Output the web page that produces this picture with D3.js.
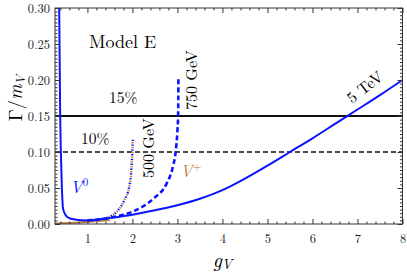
<!DOCTYPE html>
<html>
<head>
<meta charset="utf-8">
<script src="https://cdn.jsdelivr.net/npm/d3@7"></script>
</head>
<body style="margin:0; background:#fff">
<div id="chart"></div>
<script>
// --- data ---
const xTicks = [1, 2, 3, 4, 5, 6, 7, 8];
const yTicks = [0.00, 0.05, 0.10, 0.15, 0.20, 0.25, 0.30];

// V0, 5 TeV (solid blue)
const g_5tev = [0.362, 0.373, 0.395, 0.41, 0.433, 0.46, 0.52, 0.6, 0.75, 1.0, 1.5, 2.0, 2.5, 3.0, 3.5, 4.0, 4.5, 5.0, 5.5, 6.0, 6.5, 7.0, 7.5, 8.0];
const w_5tev = [0.33, 0.30, 0.15, 0.10, 0.05, 0.021, 0.012, 0.008, 0.006, 0.005, 0.0085, 0.013, 0.019, 0.026, 0.035, 0.047, 0.063, 0.081, 0.100, 0.119, 0.139, 0.159, 0.179, 0.200];

// V0, 750 GeV (dashed blue)
const g_750 = [1.0, 1.5, 1.8, 2.0, 2.25, 2.5, 2.75, 2.9, 2.96, 3.0, 3.015, 3.022];
const w_750 = [0.005, 0.0085, 0.013, 0.017, 0.025, 0.037, 0.055, 0.08, 0.10, 0.13, 0.15, 0.205];

// V0, 500 GeV (dotted blue)
const g_500 = [1.0, 1.3, 1.5, 1.68, 1.82, 1.93, 1.97, 1.99, 2.0, 2.007];
const w_500 = [0.005, 0.007, 0.010, 0.019, 0.033, 0.052, 0.07, 0.09, 0.10, 0.117];

// V+ (orange), 500 GeV dotted and the flat part near zero
const g_plus500 = [1.0, 1.3, 1.5, 1.68, 1.82, 1.93, 1.97, 1.99, 2.0, 2.005];
const w_plus500 = [0.005, 0.007, 0.010, 0.019, 0.033, 0.052, 0.07, 0.09, 0.10, 0.114];
const g_plusLow = [0.28, 0.5, 0.8, 1.0, 1.3, 1.5];
const w_plusLow = [0.0008, 0.0012, 0.002, 0.003, 0.0045, 0.006];

const lines15 = 0.15;
const lines10 = 0.10;

AREA_WIDTH = 407;
AREA_HEIGHT = 273;
const BLUE = "#0a14ff";
const ORANGE = "#c47f42";
const LM = "'Latin Modern Roman', 'Liberation Serif', serif";

const margin = { left: 55, right: 4.5, top: 8, bottom: 49 };

const svg = d3.select("#chart")
	.append("svg")
		.attr("width", AREA_WIDTH)
		.attr("height", AREA_HEIGHT);

const x = d3.scaleLinear().domain([0.28, 8]).range([margin.left, AREA_WIDTH - margin.right]);
const y = d3.scaleLinear().domain([0, 0.3]).range([AREA_HEIGHT - margin.bottom, margin.top]);

svg.append("clipPath").attr("id", "clip")
	.append("rect")
		.attr("x", x(0.28)).attr("y", y(0.3))
		.attr("width", x(8) - x(0.28)).attr("height", y(0) - y(0.3));

const plot = svg.append("g").attr("clip-path", "url(#clip)");

const line = d3.line()
	.x(d => x(d[0]))
	.y(d => y(d[1]))
	.curve(d3.curveMonotoneX);

function zip(a, b) { return a.map((v, i) => [v, b[i]]); }

// reference lines
plot.append("line")
	.attr("x1", x(0.28)).attr("x2", x(8))
	.attr("y1", y(lines15)).attr("y2", y(lines15))
	.attr("stroke", "#111").attr("stroke-width", 2);
plot.append("line")
	.attr("x1", x(0.28)).attr("x2", x(8))
	.attr("y1", y(lines10)).attr("y2", y(lines10))
	.attr("stroke", "#111").attr("stroke-width", 1.7)
	.attr("stroke-dasharray", "5,3");

// V+ curves
plot.append("path")
	.attr("d", line(zip(g_plusLow, w_plusLow)))
	.attr("fill", "none").attr("stroke", ORANGE).attr("stroke-width", 2);
plot.append("path")
	.attr("d", line(zip(g_plus500, w_plus500)))
	.attr("fill", "none").attr("stroke", ORANGE).attr("stroke-width", 2.4)
	.attr("stroke-dasharray", "1.4,3.4").attr("stroke-dashoffset", 2.4);

// V0 curves
plot.append("path")
	.attr("d", line(zip(g_500, w_500)))
	.attr("fill", "none").attr("stroke", BLUE).attr("stroke-width", 2.4)
	.attr("stroke-dasharray", "1.4,3.4");
plot.append("path")
	.attr("d", line(zip(g_750, w_750)))
	.attr("fill", "none").attr("stroke", BLUE).attr("stroke-width", 2.6)
	.attr("stroke-dasharray", "5,3");
plot.append("path")
	.attr("d", line(zip(g_5tev, w_5tev)))
	.attr("fill", "none").attr("stroke", BLUE).attr("stroke-width", 2);

// frame
svg.append("rect")
	.attr("x", x(0.28)).attr("y", y(0.3))
	.attr("width", x(8) - x(0.28)).attr("height", y(0) - y(0.3))
	.attr("fill", "none").attr("stroke", "#333").attr("stroke-width", 1);

// ticks, inward on all four sides
const xMinor = d3.range(0.4, 8.001, 0.2).filter(v => Math.abs(v - Math.round(v)) > 0.01);
const yMinor = d3.range(0.005, 0.3, 0.005).filter(v => Math.abs(v / 0.05 - Math.round(v / 0.05)) > 0.01);

svg.append("g").attr("transform", `translate(0,${y(0)})`)
	.call(d3.axisBottom(x).tickValues(xTicks).tickSizeInner(-5).tickSizeOuter(0).tickPadding(10).tickFormat(d3.format("d")));
svg.append("g").attr("transform", `translate(0,${y(0)})`)
	.call(d3.axisBottom(x).tickValues(xMinor).tickSizeInner(-2.5).tickSizeOuter(0).tickFormat(""));
svg.append("g").attr("transform", `translate(0,${y(0.3)})`)
	.call(d3.axisTop(x).tickValues(xTicks).tickSizeInner(-5).tickSizeOuter(0).tickFormat(""));
svg.append("g").attr("transform", `translate(0,${y(0.3)})`)
	.call(d3.axisTop(x).tickValues(xMinor).tickSizeInner(-2.5).tickSizeOuter(0).tickFormat(""));

svg.append("g").attr("transform", `translate(${x(0.28)},0)`)
	.call(d3.axisLeft(y).tickValues(yTicks).tickSizeInner(-5).tickSizeOuter(0).tickPadding(5).tickFormat(d3.format(".2f")));
svg.append("g").attr("transform", `translate(${x(0.28)},0)`)
	.call(d3.axisLeft(y).tickValues(yMinor).tickSizeInner(-2.5).tickSizeOuter(0).tickFormat(""));
svg.append("g").attr("transform", `translate(${x(8)},0)`)
	.call(d3.axisRight(y).tickValues(yTicks).tickSizeInner(-5).tickSizeOuter(0).tickFormat(""));
svg.append("g").attr("transform", `translate(${x(8)},0)`)
	.call(d3.axisRight(y).tickValues(yMinor).tickSizeInner(-2.5).tickSizeOuter(0).tickFormat(""));

svg.selectAll(".domain").remove();
svg.selectAll(".tick line").attr("stroke", "#333");
svg.selectAll(".tick text")
	.style("font-family", LM)
	.style("font-size", "12.5px")
	.attr("fill", "#222");

// helper for text in the LaTeX-like font
function label(sel, size) {
	return sel.append("text").style("font-family", LM).style("font-size", size + "px");
}

// axis titles
const gv = label(svg, 20)
	.attr("x", x(4.0)).attr("y", 267)
	.attr("text-anchor", "middle")
	.style("font-style", "italic")
	.text("g");
gv.append("tspan").style("font-size", "14px").attr("dy", 2).text("V");

const gm = label(svg, 19)
	.attr("transform", `translate(22,${y(0.175)}) rotate(-90)`)
	.attr("text-anchor", "middle")
	.text("Γ/");
gm.append("tspan").style("font-style", "italic").text("m");
gm.append("tspan").style("font-style", "italic").style("font-size", "13px").attr("dy", 3).text("V");

// annotations
label(svg, 18).attr("x", 89).attr("y", 48).text("Model E");
label(svg, 15.5).attr("x", 109).attr("y", 103).text("15%");
label(svg, 15.5).attr("x", 81).attr("y", 144).text("10%");

const v0 = label(svg, 17)
	.attr("x", 70).attr("y", 193)
	.style("font-style", "italic").attr("fill", BLUE)
	.text("V");
v0.append("tspan").style("font-size", "11px").style("font-style", "normal").attr("dy", -7).text("0");

const vp = label(svg, 17)
	.attr("x", 180).attr("y", 177)
	.style("font-style", "italic").attr("fill", ORANGE)
	.text("V");
vp.append("tspan").style("font-size", "11px").style("font-style", "normal").attr("dy", -7).text("+");

label(svg, 16).attr("transform", "translate(153.5,178) rotate(-90)").text("500 GeV");
label(svg, 16).attr("transform", "translate(196.5,110) rotate(-90)").text("750 GeV");
label(svg, 16).attr("transform", "translate(352,104) rotate(-38)").text("5 TeV");
</script>
</body>
</html>
